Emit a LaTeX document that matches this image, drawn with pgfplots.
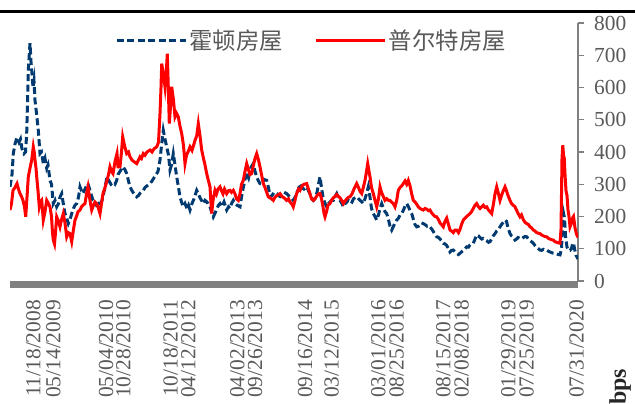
\documentclass[border=0pt]{standalone}
\usepackage{fontspec}
\setmainfont{Liberation Serif}
\newfontfamily\cjk{Noto Sans CJK SC}
\usepackage{pgfplots}
\pgfplotsset{compat=1.18}
\definecolor{hblue}{RGB}{0,58,112}
\definecolor{pred}{RGB}{255,0,0}
\definecolor{tgray}{RGB}{89,89,89}
\definecolor{agray}{RGB}{128,128,128}
\begin{document}
\begin{tikzpicture}
\useasboundingbox (0,0) rectangle (635bp,404bp);
\draw[black, line width=2.5bp] (0,392.5bp) -- (635bp,392.5bp);
\begin{axis}[
  at={(10bp,123bp)}, anchor=south west,
  scale only axis, width=568bp, height=258bp,
  xmin=10, xmax=578, ymin=0, ymax=800,
  axis y line*=right, axis x line*=bottom,
  x axis line style={draw=none},
  y axis line style={draw=agray, line width=1.5bp, -},
  ytick={0,100,...,800},
  ytick style={draw=agray, line width=1.2bp},
  tick align=outside, major tick length=6bp,
  xtick={33.3,53.3,106,123.3,170.7,188.3,237.3,255,305,331.7,378.3,396.7,443.3,461.7,508.3,526.7,576.7},
  xticklabels={11/18/2008,05/14/2009,05/04/2010,10/28/2010,10/18/2011,04/12/2012,04/02/2013,09/26/2013,09/16/2014,03/12/2015,03/01/2016,08/25/2016,08/15/2017,02/08/2018,01/29/2019,07/25/2019,07/31/2020},
  xtick style={draw=none},
  xticklabel style={rotate=90, anchor=east, inner sep=0pt, font=\fontsize{21.5}{22}\selectfont, text=tgray},
  xticklabel shift=13bp,
  yticklabel style={anchor=west, inner sep=0pt, font=\fontsize{21.5}{22}\selectfont, text=tgray},
  yticklabel shift=10bp,
  /pgf/number format/assume math mode=true,
  legend columns=2,
  legend image code/.code={\draw[#1] (0bp,0bp) -- (69bp,0bp);},
  legend style={draw=none, fill=none, at={(axis description cs:0.185,0.934)}, anchor=west,
    inner sep=0pt, font=\cjk\fontsize{23.5}{24}\selectfont, text=tgray,
    /tikz/every even column/.append style={column sep=30bp}},
]
\addplot[hblue, line width=3bp, dash pattern=on 7bp off 3.5bp] coordinates {
(10,292) (12,330) (13.3,395) (15,425) (17,445) (19,430) (20.5,440) (22,410) (24,395) (25.5,400)
(26.7,457) (28.3,654) (30,737) (31,680) (31.7,654) (33,600) (34,620) (35,560) (36.5,520) (38.3,467)
(40,395) (41.5,400) (43.3,364) (45,380) (46.7,350) (48,360) (50,312) (51.5,300) (53.3,240) (55,250)
(56.7,230) (58.5,240) (60,260) (61.7,271) (63.3,240) (65,209) (66.7,195) (68.3,178) (70,190) (71.7,209)
(73.5,225) (75,235) (76.7,240) (78.5,260) (80,292) (81.5,280) (83,271) (85,285) (86.5,295) (88,302)
(90,280) (91.5,265) (93,250) (95,245) (96.5,235) (98.5,240) (100,230) (102,250) (103.5,270) (105,290)
(107,323) (109,310) (111,300) (113,305) (115,300) (116.7,312) (118,330) (120,340) (122,350) (123,354)
(125,345) (126.7,333) (128.5,310) (130,292) (132,280) (134,270) (136.7,261) (138.5,265) (140,272) (143.3,281)
(145,290) (147,295) (150,302) (152,310) (154,320) (156.7,333) (158,340) (160,375) (161.5,420) (163.3,467)
(165,440) (166.7,416) (168.5,390) (170,344) (171.5,360) (173.3,395) (175,360) (176.7,323) (178.5,290) (180,261)
(181.5,245) (183.3,230) (185,240) (187,225) (188.5,235) (190,220) (192,240) (194,255) (196.7,281) (198.5,270)
(200,258) (201.5,250) (203.3,240) (205,250) (207,245) (208.5,235) (210,230) (211.5,215) (213.3,199) (215,210)
(217,225) (218.5,235) (220,240) (222,230) (224,245) (226.7,220) (228.5,230) (230,225) (231.5,240) (233.3,250)
(235,240) (237,235) (240,230) (241.5,260) (243.3,290) (245,315) (246.7,333) (248.5,320) (250,345) (251.5,355)
(253.3,364) (255,340) (257,320) (258.5,310) (260,302) (262,300) (264,315) (266.7,312) (268.5,290) (270,261)
(272,265) (274,275) (276.7,271) (278.5,265) (280,262) (282,270) (284,275) (286.7,271) (288.5,265) (290,260)
(292,255) (293.3,250) (295,260) (297,275) (298.5,285) (300,302) (302,290) (304,285) (306.7,292) (308.5,280)
(310,270) (311.5,258) (313.3,250) (315,255) (317,275) (318.5,300) (320,323) (321.5,290) (323,260) (324.5,245)
(326.7,230) (328.5,240) (330,245) (331.5,250) (333.3,250) (335,262) (336.7,271) (338.5,255) (340,250) (342,240)
(343.3,230) (345,240) (347,245) (348.5,255) (350,250) (352,245) (353.5,255) (355,258) (356.7,261) (358.5,255)
(360,250) (362,245) (363.3,240) (365,255) (366.5,270) (368.3,292) (370,260) (371.5,225) (373.3,209) (375,200)
(376.7,189) (378.5,205) (380,225) (381.7,240) (383.5,225) (385,215) (386.7,209) (388.5,190) (390,170) (391.7,158)
(393.5,170) (395,180) (396.7,189) (398.5,195) (400,205) (401.7,209) (403.5,220) (405,232) (406.7,240) (408.5,230)
(410,218) (411.7,209) (413.5,190) (415,175) (416.7,168) (418.5,170) (420,175) (421.5,180) (423.3,178) (425,175)
(427,170) (428.5,172) (430,168) (432,160) (434,150) (436.7,137) (438.5,135) (440,130) (441.5,125) (443.3,117)
(445,115) (446.7,110) (448.5,100) (450,90) (451.5,95) (453.3,96) (455,90) (456.7,85) (458.5,82) (460,86)
(461.5,90) (463.3,95) (465,100) (466.7,106) (468.5,105) (470,112) (471.5,115) (473.3,117) (475,130) (476.7,143)
(478.5,140) (480,135) (481.7,130) (483.3,132) (485,128) (486.7,125) (488.5,120) (490,122) (491.5,130) (493.3,140)
(495,147) (496.7,155) (498.5,160) (500,168) (501.5,175) (503.3,182) (505,189) (506.5,185) (508,165) (510,147)
(511.5,140) (513.3,135) (515,127) (516.5,130) (518,135) (520,132) (521.5,130) (523.3,135) (525,138) (526.7,137)
(528.5,130) (530,125) (531.5,122) (533.3,117) (535,110) (536.7,105) (538.5,100) (540,96) (541.5,95) (543.3,98)
(545,95) (546.7,96) (548.5,92) (550,90) (551.5,88) (553.3,86) (555,85) (556.7,84) (558.5,82) (560,81)
(561.5,100) (562.5,170) (563.5,210) (564.5,195) (565.5,140) (567,105) (568.5,95) (570,95) (571.5,100) (572.5,115)
(573.5,118) (574.5,100) (576,80) (578,68)
};
\addlegendentry{霍顿房屋}
\addplot[pred, line width=3bp] coordinates {
(10,220) (11.5,240) (13,281) (15,290) (17,302) (18.5,285) (20,271) (21.5,262) (23,250) (24.5,230)
(25.7,199) (27,260) (28.3,323) (30,350) (31.7,375) (33.3,416) (34.2,400) (35,375) (36,350) (36.7,323)
(38,280) (39.3,230) (40.5,245) (41.7,250) (42.5,220) (43.3,189) (45,215) (46.7,250) (48.5,240) (50,230)
(51.5,200) (52.5,150) (53.3,127) (54.5,115) (55.5,150) (56.7,199) (58.5,185) (60,168) (61.5,190) (63.3,209)
(65,180) (66.7,137) (68.3,150) (70,147) (71.7,122) (73.5,160) (75,189) (76.5,200) (78,215) (80,220)
(81.5,230) (83,235) (85,240) (86.5,270) (88,292) (90,250) (91.7,220) (93.5,235) (95,245) (96.7,240)
(98.5,225) (100,209) (101.5,240) (103,271) (105,290) (107,312) (108.5,330) (110,354) (111.5,340) (113,333)
(115,370) (117,395) (118,354) (120,354) (121.5,400) (122.7,447) (124.5,420) (126.7,395) (128.5,400) (130,385)
(132,375) (134,370) (136.7,364) (138.5,375) (140,385) (141.5,380) (143.3,395) (145,390) (147,400) (150,406)
(152,400) (154,410) (156.7,416) (158.5,430) (160,519) (161,600) (161.7,674) (163.5,640) (165,602) (166.5,660)
(167.3,705) (168.3,600) (169.3,488) (170.5,540) (171.7,602) (173.5,560) (175,509) (176.5,520) (178.3,509) (180,480)
(181.7,457) (183.5,420) (185,364) (186.5,390) (188,400) (190,416) (192,405) (193.5,420) (195,436) (196.7,450)
(198.3,488) (200,450) (201.7,406) (203.5,380) (205,360) (206.7,333) (208.5,310) (210,292) (210.8,250) (211.7,209)
(213,250) (215,281) (216.5,270) (218,285) (220,292) (221.5,280) (223,270) (224.5,285) (226.7,271) (228.5,280)
(230,281) (231.5,275) (233.3,281) (235,270) (236.5,255) (238.3,250) (240,270) (241.5,300) (243.3,312) (245,340)
(246.7,364) (248.5,345) (250,330) (251.7,333) (253.5,360) (255,380) (256.7,395) (258.5,375) (260,354) (261.5,330)
(263.3,302) (265,290) (266.7,275) (268.3,261) (270,258) (271.5,255) (273.3,250) (275,260) (277,265) (280,271)
(282,262) (284,258) (286.7,250) (288.5,255) (290,245) (292,238) (293.3,230) (295,250) (296.5,270) (298.5,285)
(300,281) (302,295) (304,300) (306.7,302) (308.5,285) (310,270) (311.5,255) (313.3,250) (315,255) (317,265)
(318.5,270) (320,271) (321.5,255) (323,230) (324,210) (325,199) (326.5,215) (328,235) (330,240) (331.5,250)
(333.3,258) (335,262) (336.7,268) (338.5,262) (340,258) (342,248) (343.3,240) (345,248) (347,255) (348.5,260)
(350,261) (352,270) (354,285) (356.7,302) (358.5,290) (360,278) (361.7,271) (363.3,290) (365,312) (366.5,340)
(367.7,364) (369,340) (370,323) (371.5,290) (373.3,271) (375,250) (376.7,230) (378.5,255) (380,292) (381.5,275)
(383.3,262) (385,250) (386.7,255) (388.5,250) (390,250) (391.5,245) (393.3,240) (395,230) (396.7,250) (398.3,281)
(400,290) (401.7,295) (403.3,302) (405,310) (406.7,300) (408.3,312) (410,295) (411.7,270) (413.3,250) (415,245)
(416.7,238) (418.3,230) (420,225) (421.7,222) (423.3,220) (425,225) (427,222) (428.5,218) (430,220) (431.5,212)
(433.3,205) (435,200) (436.7,199) (438.5,190) (440,180) (441.5,175) (443.3,168) (445,185) (446.7,195) (448.5,175)
(450,158) (451.5,155) (453.3,150) (455,158) (456.7,158) (458.5,150) (460,160) (461.5,175) (463.3,189) (465,195)
(466.7,200) (468.5,205) (470,209) (471.5,215) (473.3,225) (475,235) (476.7,240) (478.5,230) (480,225) (481.7,230)
(483.3,235) (485,228) (486.7,230) (488.5,220) (490,215) (491.7,209) (493.5,240) (495,270) (496.7,292) (498.5,270)
(500,250) (501.5,265) (503.3,280) (505,292) (506.5,280) (508,265) (510,250) (511.5,240) (513.3,235) (515,230)
(516.5,220) (518,210) (520,199) (521.5,205) (523.3,190) (525,182) (526.7,178) (528.5,175) (530,168) (531.5,165)
(533.3,158) (535,155) (536.7,150) (538.5,148) (540,147) (541.5,143) (543.3,140) (545,138) (546.7,137) (548.5,132)
(550,130) (551.5,128) (553.3,127) (555,122) (556.7,120) (558.5,118) (560,117) (561,160) (562,380) (562.8,421)
(563.5,390) (564.3,380) (565,330) (566,280) (567,265) (568,220) (569,200) (570,168) (571.5,180) (572.5,195)
(573.5,200) (575,165) (576.5,145) (578,135)
};
\addlegendentry{普尔特房屋}
\end{axis}
\fill[agray] (10bp,116bp) rectangle (578bp,123bp);
\node[rotate=90, anchor=west, inner sep=0pt, font=\bfseries\fontsize{24}{24}\selectfont, text=black!85] at (620bp,-1bp) {bps};
\end{tikzpicture}
\end{document}
